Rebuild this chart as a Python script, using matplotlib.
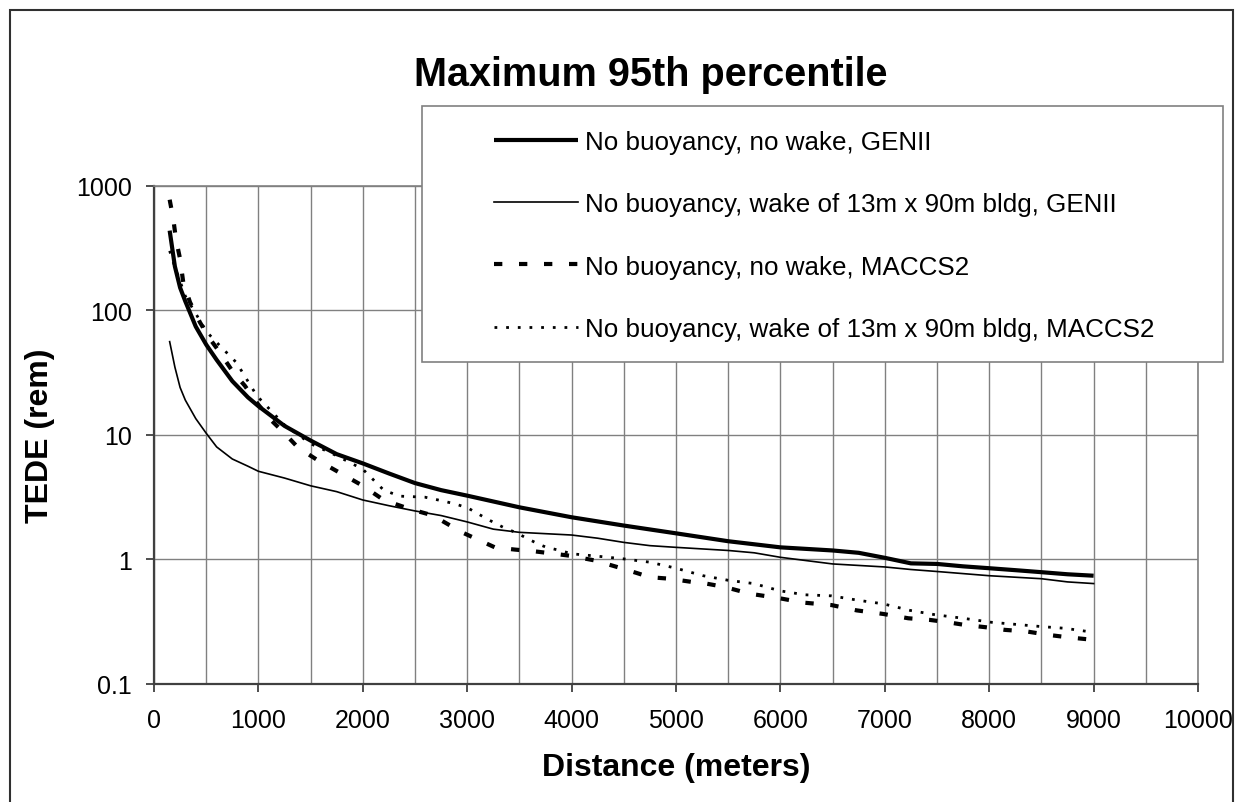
import matplotlib
matplotlib.use("Agg")
import matplotlib.pyplot as plt
from matplotlib import font_manager
from matplotlib.patches import Rectangle
from matplotlib.ticker import FixedLocator, FuncFormatter, NullFormatter

# ---------------- data ----------------
genii_dist = [150, 200, 250, 300, 400, 500, 600, 750, 900, 1000, 1250, 1500, 1750,
              2000, 2250, 2500, 2750, 3000, 3500, 4000, 4500, 5000, 5500, 6000,
              6500, 6750, 7000, 7250, 7500, 7750, 8000, 8250, 8500, 8750, 9000]
genii_nowake = [436, 225, 152, 118, 74, 53, 40, 27, 20, 17, 11.8, 9.0, 7.0,
                5.9, 4.9, 4.1, 3.6, 3.25, 2.62, 2.18, 1.87, 1.62, 1.40, 1.25,
                1.18, 1.13, 1.03, 0.93, 0.92, 0.88, 0.85, 0.82, 0.79, 0.76, 0.74]

genii_wake_dist = [150, 200, 250, 300, 400, 500, 600, 750, 900, 1000, 1250, 1500, 1750,
                   2000, 2250, 2500, 2750, 3000, 3250, 3500, 4000, 4250, 4500, 4750,
                   5000, 5500, 5750, 6000, 6500, 7000, 7250, 7500, 8000, 8500, 8750, 9000]
genii_wake = [56, 35, 24, 19, 13.5, 10.3, 8.0, 6.4, 5.6, 5.1, 4.5, 3.9, 3.5,
              3.0, 2.7, 2.45, 2.25, 2.0, 1.75, 1.65, 1.57, 1.48, 1.37, 1.29,
              1.25, 1.18, 1.13, 1.04, 0.92, 0.87, 0.83, 0.80, 0.74, 0.70, 0.66, 0.64]

maccs_dist = [150, 185, 210, 250, 280, 345, 440, 535, 630, 760, 870, 980, 1110, 1240,
              1380, 1575, 2000, 2200, 2450, 2675, 2755, 2950, 3120, 3265, 3455, 3650,
              3760, 3985, 4225, 4445, 4620, 4750, 4940, 5150, 5245, 5470, 5710, 5980,
              6220, 6490, 6730, 6985, 7225, 7430, 7605, 7765, 7960, 8150, 8360, 8565,
              8755, 9000]
maccs_nowake = [772, 540, 373, 258, 168, 116, 80, 59, 46, 31.7, 24.8, 18.3, 13.4, 10.5,
                7.9, 6.2, 3.9, 3.0, 2.54, 2.25, 2.05, 1.65, 1.42, 1.25, 1.20, 1.16,
                1.13, 1.07, 0.98, 0.865, 0.78, 0.72, 0.70, 0.66, 0.65, 0.60, 0.53, 0.49,
                0.45, 0.43, 0.39, 0.365, 0.337, 0.327, 0.313, 0.298, 0.286, 0.272, 0.264, 0.248,
                0.237, 0.226]

maccs_wake_dist = [150, 185, 300, 505, 630, 790, 985, 1250, 1500, 1750, 2000, 2200, 2355,
                   2595, 2755, 2885, 3010, 3105, 3220, 3345, 3475, 3570, 3680, 3760, 3890,
                   4000, 4255, 4500, 4750, 5000, 5260, 5500, 5745, 5995, 6235, 6490, 6745,
                   6985, 7240, 7480, 7750, 8020, 8275, 8500, 8725, 9000]
maccs_wake = [300, 243, 130, 67, 52, 38, 20.6, 12.0, 8.5, 6.8, 5.3, 3.6, 3.22,
              3.16, 2.96, 2.79, 2.58, 2.32, 2.05, 1.81, 1.63, 1.48, 1.33, 1.25, 1.18,
              1.11, 1.06, 1.01, 0.95, 0.85, 0.74, 0.68, 0.64, 0.56, 0.52, 0.51, 0.47,
              0.44, 0.39, 0.36, 0.337, 0.313, 0.30, 0.289, 0.28, 0.26]

labels = ["No buoyancy, no wake, GENII",
          "No buoyancy, wake of 13m x 90m bldg, GENII",
          "No buoyancy, no wake, MACCS2",
          "No buoyancy, wake of 13m x 90m bldg, MACCS2"]
x_ticks = [0, 1000, 2000, 3000, 4000, 5000, 6000, 7000, 8000, 9000, 10000]
y_ticks = [0.1, 1, 10, 100, 1000]
y_tick_labels = ["0.1", "1", "10", "100", "1000"]

# ---------------- figure ----------------
W, H = 1236, 803
DPI = 100
plt.rcParams['font.family'] = ['Liberation Sans', 'DejaVu Sans']
fig = plt.figure(figsize=(W / DPI, H / DPI), dpi=DPI)

def fx(px):
    return px / W

def fy(py):
    return 1 - py / H

L, R, T, B = 154, 1198, 186.7, 685
ax = fig.add_axes([fx(L), fy(B), fx(R) - fx(L), fy(T) - fy(B)])
ax.set_yscale('log')
ax.set_xlim(0, 10000)
ax.set_ylim(0.1, 1000)

grid_c = '#808080'
axis_c = '#404040'

ax.xaxis.set_major_locator(FixedLocator(x_ticks))
ax.xaxis.set_minor_locator(FixedLocator([v + 500 for v in x_ticks[:-1]]))
ax.xaxis.set_minor_formatter(NullFormatter())
ax.yaxis.set_major_locator(FixedLocator(y_ticks))
ax.yaxis.set_minor_locator(FixedLocator([]))
ax.yaxis.set_major_formatter(FuncFormatter(
    lambda v, p: y_tick_labels[y_ticks.index(v)] if v in y_ticks else ""))
ax.grid(True, which='major', axis='both', color=grid_c, lw=1.0)
ax.grid(True, which='minor', axis='x', color=grid_c, lw=1.0)
ax.set_axisbelow(True)

ax.tick_params(axis='x', which='major', direction='out', length=5.5, width=1.3,
               color=axis_c, labelsize=18, pad=12, labelcolor='black')
ax.tick_params(axis='x', which='minor', length=0)
ax.tick_params(axis='y', which='major', direction='out', length=6, width=1.3,
               color=axis_c, labelsize=18, pad=10, labelcolor='black')

for s in ['left', 'bottom']:
    ax.spines[s].set_color(axis_c)
    ax.spines[s].set_linewidth(1.6)
for s in ['top', 'right']:
    ax.spines[s].set_color(grid_c)
    ax.spines[s].set_linewidth(1.2)

# series
l1, = ax.plot(genii_dist, genii_nowake, color='black', lw=3.0, solid_capstyle='butt')
l2, = ax.plot(genii_wake_dist, genii_wake, color='black', lw=1.2)
l3, = ax.plot(maccs_dist, maccs_nowake, color='black', lw=3.0, linestyle=(0, (2.0, 4.0)),
              dash_capstyle='butt')
l4, = ax.plot(maccs_wake_dist, maccs_wake, color='black', lw=2.0, linestyle=(0, (1.0, 3.2)),
              dash_capstyle='butt')

# labels
ax.set_xlabel("Distance (meters)", fontsize=23, fontweight='bold', labelpad=14)
fig.text(fx(40), fy(436), "TEDE (rem)", rotation=90, fontsize=23, fontweight='bold',
         ha='center', va='center')

# title: condensed bold face if present, otherwise a smaller regular bold face
title_family = 'Liberation Sans'
title_size = 28.5
try:
    font_manager.findfont(font_manager.FontProperties(family='Liberation Sans Narrow',
                                                      weight='bold'),
                          fallback_to_default=False)
    title_family = 'Liberation Sans Narrow'
    title_size = 32
except Exception:
    pass
fig.text(fx(651), fy(86), "Maximum 95th percentile", fontsize=title_size, fontweight='bold',
         ha='center', va='baseline', family=[title_family, 'DejaVu Sans'])

# legend box
box = Rectangle((fx(422), fy(362.7)), fx(1223) - fx(422), fy(107) - fy(362.7),
                transform=fig.transFigure, facecolor='white', edgecolor=grid_c,
                lw=1.2, zorder=5)
fig.add_artist(box)
fs_leg = 18.7
leg = fig.legend([l1, l2, l3, l4], labels, loc='center left',
                 bbox_to_anchor=(fx(494), fy(236.5)), frameon=False, borderpad=0,
                 borderaxespad=0, handlelength=84 / 26, handletextpad=7 / 26,
                 labelspacing=1.47, fontsize=fs_leg)
leg.set_zorder(6)

# outer border
border = Rectangle((fx(10), -0.05), fx(1233) - fx(10), fy(11) + 0.05,
                   transform=fig.transFigure, facecolor='none', edgecolor='#303030',
                   lw=1.5, zorder=7)
fig.add_artist(border)

fig.savefig("out.png", dpi=DPI)
